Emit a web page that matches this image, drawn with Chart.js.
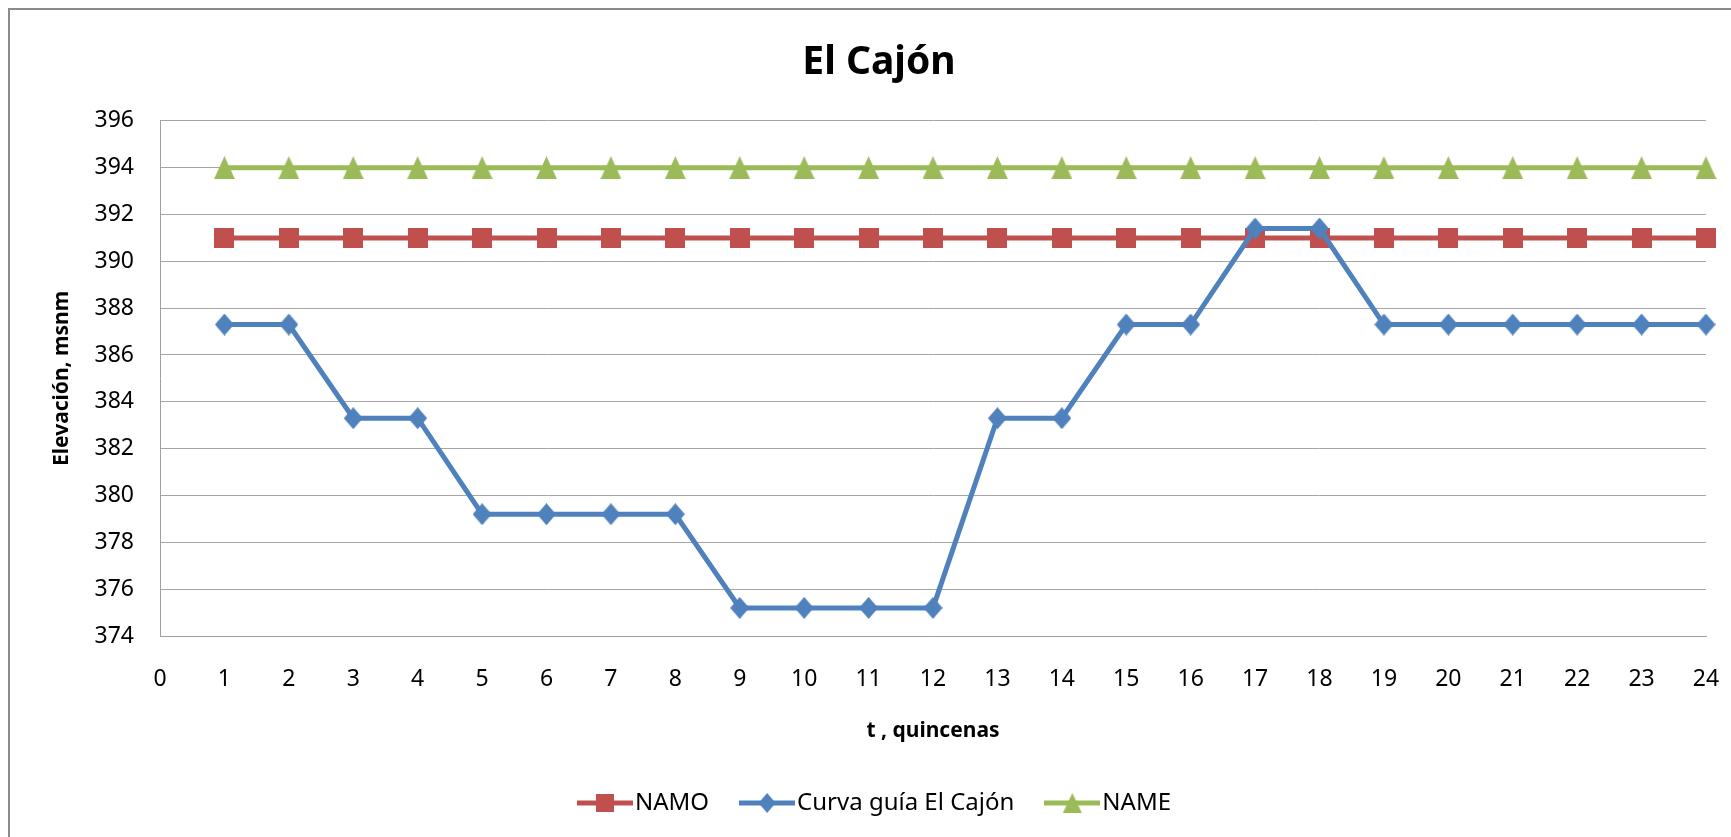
<!DOCTYPE html>
<html>
<head>
<meta charset="utf-8">
<title>El Cajón</title>
<script src="https://cdn.jsdelivr.net/npm/chart.js@4"></script>
<style>
  html, body { margin: 0; padding: 0; background: #fff; overflow: hidden; }
  #frame { position: absolute; left: 8px; top: 8px; width: 2000px; height: 2000px;
           border-top: 2px solid #8a8a8a; border-left: 2px solid #8a8a8a; }
  #myChart { position: absolute; left: 0; top: 0; }
</style>
</head>
<body>
<div id="frame"></div>
<canvas id="myChart" width="1731" height="837"></canvas>
<script>
// quincenas (t) and elevations
var quincenas = [1, 2, 3, 4, 5, 6, 7, 8, 9, 10, 11, 12, 13, 14, 15, 16, 17, 18, 19, 20, 21, 22, 23, 24];
var namo = [391, 391, 391, 391, 391, 391, 391, 391, 391, 391, 391, 391, 391, 391, 391, 391, 391, 391, 391, 391, 391, 391, 391, 391];
var curvaGuia = [387.3, 387.3, 383.3, 383.3, 379.2, 379.2, 379.2, 379.2, 375.2, 375.2, 375.2, 375.2,
                 383.3, 383.3, 387.3, 387.3, 391.4, 391.4, 387.3, 387.3, 387.3, 387.3, 387.3, 387.3];
var nameLevel = [394, 394, 394, 394, 394, 394, 394, 394, 394, 394, 394, 394, 394, 394, 394, 394, 394, 394, 394, 394, 394, 394, 394, 394];
var seriesNames = ['NAMO', 'Curva guía El Cajón', 'NAME'];
var yMin = 374, yMax = 396, yStep = 2;
var xMin = 0, xMax = 24;

var RED = '#C0504D', BLUE = '#4F81BD', GREEN = '#9BBB59';
var FONT = "'Noto Sans', 'DejaVu Sans', sans-serif";

function toPoints(values) {
    return values.map(function (v, i) { return {x: quincenas[i], y: v}; });
}

// little canvases used as marker shapes
function drawShape(ctx, shape, color, cx, cy, w, h) {
    ctx.fillStyle = color;
    ctx.beginPath();
    if (shape === 'square') {
        ctx.rect(cx - w / 2, cy - h / 2, w, h);
    } else if (shape === 'diamond') {
        ctx.moveTo(cx, cy - h / 2);
        ctx.lineTo(cx + w / 2, cy);
        ctx.lineTo(cx, cy + h / 2);
        ctx.lineTo(cx - w / 2, cy);
        ctx.closePath();
    } else {
        ctx.moveTo(cx, cy - h / 2);
        ctx.lineTo(cx + w / 2, cy + h / 2);
        ctx.lineTo(cx - w / 2, cy + h / 2);
        ctx.closePath();
    }
    ctx.fill();
}

function makeMarker(shape, color, w, h) {
    var c = document.createElement('canvas');
    c.width = w; c.height = h;
    drawShape(c.getContext('2d'), shape, color, w / 2, h / 2, w, h);
    return c;
}

function makeLegendIcon(shape, color, w, h) {
    var c = document.createElement('canvas');
    c.width = 56; c.height = 24;
    var ctx = c.getContext('2d');
    ctx.strokeStyle = color;
    ctx.lineWidth = 5;
    ctx.beginPath();
    ctx.moveTo(0, 12);
    ctx.lineTo(56, 12);
    ctx.stroke();
    drawShape(ctx, shape, color, 28, 12, w, h);
    return c;
}

var legendIcons = [
    makeLegendIcon('square', RED, 18, 18),
    makeLegendIcon('diamond', BLUE, 17, 20),
    makeLegendIcon('triangle', GREEN, 19, 20)
];

var ctx = document.getElementById('myChart').getContext('2d');
var myChart = new Chart(ctx, {
    type: 'line',
    data: {
        datasets: [{
            label: seriesNames[0],
            data: toPoints(namo),
            borderColor: RED,
            backgroundColor: RED,
            borderWidth: 5,
            pointStyle: makeMarker('square', RED, 20, 20),
            pointRadius: 10,
            clip: false,
            order: 1
        }, {
            label: seriesNames[1],
            data: toPoints(curvaGuia),
            borderColor: BLUE,
            backgroundColor: BLUE,
            borderWidth: 5,
            pointStyle: makeMarker('diamond', BLUE, 19, 22),
            pointRadius: 10,
            clip: false,
            order: 0
        }, {
            label: seriesNames[2],
            data: toPoints(nameLevel),
            borderColor: GREEN,
            backgroundColor: GREEN,
            borderWidth: 5,
            pointStyle: makeMarker('triangle', GREEN, 21, 23),
            pointRadius: 10,
            clip: false,
            order: 2
        }]
    },
    options: {
        responsive: false,
        animation: false,
        layout: { padding: { left: 52, right: 25, top: 0, bottom: 12 } },
        plugins: {
            title: {
                display: true,
                text: 'El Cajón',
                color: '#000',
                font: { family: FONT, size: 39, weight: 'bold' },
                padding: { top: 39, bottom: 35 }
            },
            legend: {
                position: 'bottom',
                labels: {
                    color: '#000',
                    font: { family: FONT, size: 24 },
                    usePointStyle: true,
                    pointStyleWidth: 36,
                    padding: 40,
                    generateLabels: function (chart) {
                        return seriesNames.map(function (name, i) {
                            return { text: name, pointStyle: legendIcons[i], datasetIndex: i,
                                     hidden: false, lineWidth: 0, fillStyle: 'transparent', strokeStyle: 'transparent' };
                        });
                    }
                }
            },
            tooltip: { enabled: false }
        },
        scales: {
            x: {
                type: 'linear',
                min: xMin,
                max: xMax,
                ticks: { stepSize: 1, padding: 30, color: '#000', font: { family: FONT, size: 23 } },
                grid: { display: false, drawTicks: false },
                border: { display: true, color: '#a0a0a0', width: 1 },
                title: {
                    display: true,
                    text: 't , quincenas',
                    color: '#000',
                    font: { family: FONT, size: 21, weight: 'bold' },
                    padding: { top: 0, bottom: 7 }
                },
                afterFit: function (scale) {
                    scale.height = 115;
                    scale.paddingLeft = 0;
                    scale.paddingRight = 13;
                }
            },
            y: {
                min: yMin,
                max: yMax,
                ticks: { stepSize: yStep, padding: 26, color: '#000', font: { family: FONT, size: 23 } },
                grid: { color: '#a6a6a6', lineWidth: 1, drawTicks: false },
                border: { display: true, color: '#a0a0a0', width: 1 },
                title: {
                    display: true,
                    text: 'Elevación, msnm',
                    color: '#000',
                    font: { family: FONT, size: 21, weight: 'bold' },
                    padding: { top: -3, bottom: 0 }
                },
                afterFit: function (scale) { scale.width = 108; }
            }
        }
    }
});
</script>
</body>
</html>
